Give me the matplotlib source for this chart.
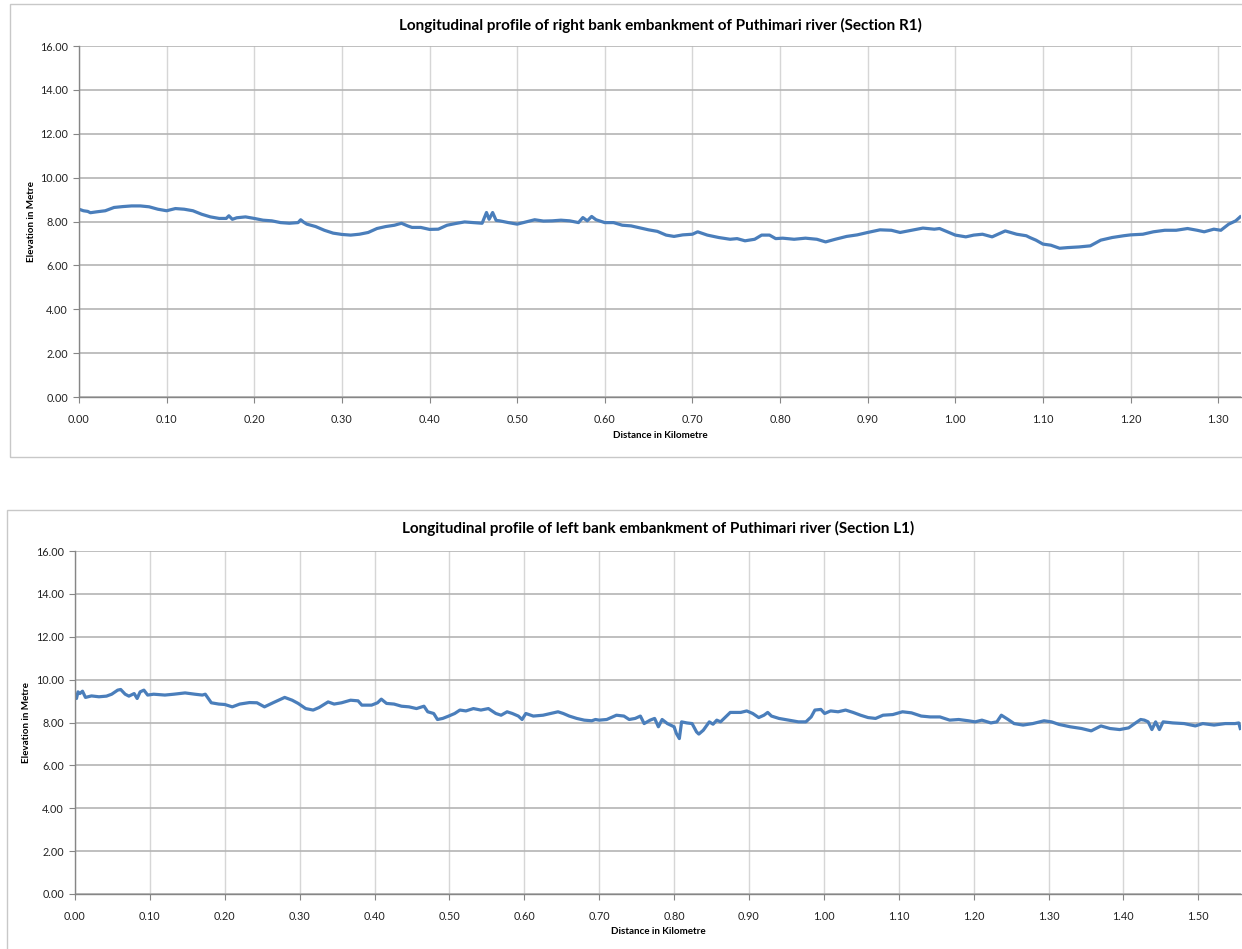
import matplotlib
matplotlib.use("Agg")
import matplotlib.pyplot as plt
from matplotlib.patches import Rectangle
import numpy as np

# Section R1 (right bank): distance (km) and elevation (m)
r1_km = [0.000, 0.005, 0.010, 0.013, 0.020, 0.030, 0.040, 0.050, 0.060, 0.070,
         0.080, 0.090, 0.100, 0.110, 0.120, 0.130, 0.140, 0.150, 0.160, 0.168,
         0.171, 0.175, 0.180, 0.190, 0.200, 0.210, 0.220, 0.230, 0.240, 0.250,
         0.253, 0.256, 0.260, 0.270, 0.280, 0.290, 0.300, 0.310, 0.320, 0.330,
         0.340, 0.350, 0.360, 0.368, 0.375, 0.380, 0.390, 0.400, 0.410, 0.420,
         0.430, 0.440, 0.450, 0.460, 0.465, 0.468, 0.472, 0.476, 0.480, 0.490,
         0.500, 0.510, 0.520, 0.530, 0.540, 0.550, 0.560, 0.570, 0.575, 0.580,
         0.585, 0.590, 0.600, 0.610, 0.620, 0.630, 0.640, 0.650, 0.660, 0.670,
         0.679, 0.689, 0.700, 0.706, 0.717, 0.730, 0.743, 0.751, 0.760, 0.771,
         0.779, 0.788, 0.795, 0.803, 0.816, 0.829, 0.842, 0.852, 0.863, 0.876,
         0.888, 0.900, 0.914, 0.927, 0.937, 0.950, 0.963, 0.976, 0.982, 0.991,
         1.000, 1.012, 1.021, 1.031, 1.042, 1.057, 1.070, 1.081, 1.085, 1.092,
         1.100, 1.109, 1.119, 1.128, 1.141, 1.154, 1.166, 1.179, 1.192, 1.200,
         1.214, 1.226, 1.239, 1.252, 1.265, 1.276, 1.284, 1.295, 1.303, 1.312,
         1.320, 1.325]
r1_elev = [8.56, 8.49, 8.46, 8.40, 8.44, 8.49, 8.64, 8.68, 8.71, 8.71,
           8.67, 8.56, 8.49, 8.59, 8.56, 8.49, 8.33, 8.21, 8.14, 8.14,
           8.26, 8.10, 8.17, 8.21, 8.14, 8.06, 8.03, 7.95, 7.92, 7.95,
           8.08, 7.98, 7.88, 7.77, 7.60, 7.47, 7.41, 7.38, 7.42, 7.50,
           7.68, 7.77, 7.83, 7.92, 7.80, 7.73, 7.73, 7.64, 7.65, 7.83,
           7.91, 7.98, 7.95, 7.92, 8.41, 8.10, 8.41, 8.05, 8.03, 7.95,
           7.88, 7.98, 8.08, 8.02, 8.03, 8.06, 8.03, 7.95, 8.18, 8.03,
           8.23, 8.08, 7.95, 7.95, 7.83, 7.80, 7.71, 7.62, 7.55, 7.38,
           7.32, 7.39, 7.42, 7.53, 7.38, 7.27, 7.19, 7.22, 7.12, 7.19,
           7.38, 7.38, 7.22, 7.24, 7.19, 7.24, 7.19, 7.07, 7.19, 7.32,
           7.39, 7.50, 7.62, 7.60, 7.50, 7.60, 7.70, 7.65, 7.68, 7.53,
           7.38, 7.30, 7.38, 7.42, 7.30, 7.57, 7.42, 7.35, 7.27, 7.15,
           6.97, 6.92, 6.78, 6.81, 6.84, 6.89, 7.15, 7.27, 7.35, 7.39,
           7.42, 7.53, 7.60, 7.60, 7.68, 7.60, 7.53, 7.65, 7.60, 7.88,
           8.03, 8.21]

# Section L1 (left bank): distance (km) and elevation (m)
l1_km = [0.000, 0.002, 0.004, 0.0065, 0.010, 0.014, 0.022, 0.032, 0.042, 0.049,
         0.057, 0.061, 0.067, 0.072, 0.079, 0.083, 0.087, 0.092, 0.097, 0.105,
         0.120, 0.132, 0.147, 0.160, 0.170, 0.174, 0.182, 0.192, 0.200, 0.210,
         0.220, 0.233, 0.243, 0.253, 0.265, 0.280, 0.290, 0.298, 0.308, 0.318,
         0.326, 0.338, 0.346, 0.356, 0.368, 0.378, 0.383, 0.396, 0.404, 0.409,
         0.416, 0.426, 0.436, 0.446, 0.456, 0.466, 0.471, 0.479, 0.484, 0.491,
         0.499, 0.507, 0.514, 0.522, 0.532, 0.542, 0.552, 0.562, 0.569, 0.577,
         0.584, 0.592, 0.597, 0.602, 0.612, 0.625, 0.635, 0.645, 0.652, 0.660,
         0.670, 0.680, 0.690, 0.695, 0.700, 0.710, 0.723, 0.733, 0.740, 0.748,
         0.755, 0.760, 0.768, 0.774, 0.779, 0.784, 0.791, 0.800, 0.803, 0.807,
         0.810, 0.817, 0.824, 0.830, 0.833, 0.839, 0.847, 0.852, 0.857, 0.862,
         0.870, 0.875, 0.889, 0.897, 0.905, 0.913, 0.920, 0.925, 0.930, 0.940,
         0.953, 0.966, 0.976, 0.983, 0.988, 0.996, 1.001, 1.009, 1.019, 1.029,
         1.039, 1.049, 1.059, 1.069, 1.079, 1.092, 1.105, 1.117, 1.130, 1.142,
         1.155, 1.168, 1.180, 1.193, 1.202, 1.211, 1.223, 1.231, 1.237, 1.246,
         1.254, 1.266, 1.279, 1.294, 1.304, 1.314, 1.329, 1.344, 1.357, 1.370,
         1.382, 1.395, 1.407, 1.415, 1.423, 1.428, 1.433, 1.438, 1.443, 1.448,
         1.453, 1.466, 1.481, 1.496, 1.506, 1.521, 1.536, 1.549, 1.554, 1.556]
l1_elev = [9.28, 9.12, 9.43, 9.35, 9.46, 9.17, 9.24, 9.20, 9.23, 9.32,
           9.51, 9.54, 9.32, 9.23, 9.35, 9.12, 9.43, 9.51, 9.28, 9.32,
           9.28, 9.32, 9.38, 9.32, 9.28, 9.32, 8.92, 8.86, 8.84, 8.73,
           8.86, 8.93, 8.92, 8.73, 8.93, 9.17, 9.04, 8.89, 8.65, 8.58,
           8.70, 8.96, 8.86, 8.92, 9.04, 9.01, 8.81, 8.81, 8.92, 9.09,
           8.89, 8.86, 8.76, 8.73, 8.65, 8.76, 8.50, 8.42, 8.14, 8.19,
           8.30, 8.42, 8.58, 8.54, 8.65, 8.58, 8.65, 8.42, 8.34, 8.50,
           8.42, 8.30, 8.14, 8.42, 8.30, 8.34, 8.42, 8.50, 8.42, 8.30,
           8.19, 8.11, 8.08, 8.14, 8.11, 8.14, 8.34, 8.30, 8.14, 8.19,
           8.30, 7.95, 8.11, 8.19, 7.80, 8.14, 7.95, 7.80, 7.49, 7.25,
           8.03, 7.98, 7.95, 7.56, 7.46, 7.64, 8.03, 7.92, 8.11, 8.03,
           8.30, 8.47, 8.47, 8.54, 8.42, 8.23, 8.34, 8.47, 8.30, 8.19,
           8.11, 8.03, 8.03, 8.26, 8.58, 8.61, 8.42, 8.54, 8.50, 8.58,
           8.47, 8.34, 8.23, 8.19, 8.34, 8.37, 8.50, 8.45, 8.30, 8.26,
           8.26, 8.11, 8.14, 8.08, 8.03, 8.11, 7.98, 8.03, 8.34, 8.14,
           7.95, 7.88, 7.95, 8.08, 8.03, 7.91, 7.80, 7.72, 7.61, 7.84,
           7.72, 7.67, 7.75, 7.95, 8.14, 8.11, 8.03, 7.67, 8.03, 7.67,
           8.03, 7.98, 7.95, 7.84, 7.95, 7.88, 7.95, 7.95, 7.98, 7.72]

titles = ["Longitudinal profile of right bank embankment of Puthimari river (Section R1)",
          "Longitudinal profile of left bank embankment of Puthimari river (Section L1)"]

W, H = 1242, 949
FONT = ["Lato", "DejaVu Sans"]
LINE_COLOR = "#4a7ebb"

fig = plt.figure(figsize=(W / 100, H / 100), dpi=100)
fig.patch.set_facecolor("white")

# chart frames (pixels: left, top, bottom)
for left, top, bottom in [(10, 4, 457), (7, 510, 960)]:
    fig.add_artist(Rectangle((left / W, 1 - bottom / H), 1.2, (bottom - top) / H,
                             transform=fig.transFigure, facecolor="none",
                             edgecolor="#c8c8c8", linewidth=1.0))


def draw_profile(rect, km, elev, xmax, title, title_y, xlabel_y, ylabel_x):
    ax = fig.add_axes(rect)
    ax.plot(km, elev, color=LINE_COLOR, linewidth=2.3, solid_joinstyle="round")
    ax.set_xlim(0, xmax)
    ax.set_ylim(0, 16)
    ax.set_yticks(np.arange(0, 16.01, 2))
    ax.set_xticks(np.arange(0, xmax, 0.1))
    ax.yaxis.set_major_formatter(plt.FormatStrFormatter("%.2f"))
    ax.xaxis.set_major_formatter(plt.FormatStrFormatter("%.2f"))
    ax.grid(axis="y", color="#b4b4b4", linewidth=1.2)
    ax.grid(axis="x", color="#d6d6d6", linewidth=1.0)
    ax.set_axisbelow(True)
    for s in ["top", "right"]:
        ax.spines[s].set_visible(False)
    for s in ["left", "bottom"]:
        ax.spines[s].set_color("#868686")
        ax.spines[s].set_linewidth(1.0)
    ax.tick_params(axis="both", length=4, color="#868686", labelsize=7.8,
                   labelcolor="#222222")
    ax.tick_params(axis="x", pad=8)
    ax.tick_params(axis="y", pad=4)
    for lab in ax.get_xticklabels() + ax.get_yticklabels():
        lab.set_family(FONT)
    fig.text(0.5 * (rect[0] + 1), title_y, title, ha="center", va="center",
             fontsize=11, fontweight="bold", family=FONT)
    fig.text(0.5 * (rect[0] + 1), xlabel_y, "Distance in Kilometre", ha="center",
             va="center", fontsize=7.1, fontweight="bold", family=FONT)
    fig.text(ylabel_x, rect[1] + rect[3] / 2, "Elevation in Metre", ha="center",
             va="center", rotation=90, fontsize=7.1, fontweight="bold", family=FONT)
    return ax


draw_profile([79 / W, 1 - 397 / H, (1241 - 79) / W, 351 / H], r1_km, r1_elev,
             1.326, titles[0], 1 - 25 / H, 1 - 436 / H, 32 / W)
draw_profile([75 / W, 1 - 894 / H, (1241 - 75) / W, 343 / H], l1_km, l1_elev,
             1.557, titles[1], 1 - 528 / H, 1 - 932 / H, 27 / W)

fig.savefig("out.png", dpi=100, facecolor="white")
